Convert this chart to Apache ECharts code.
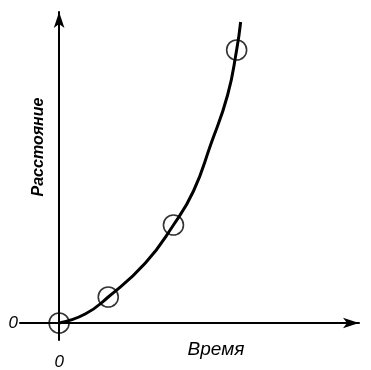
<!DOCTYPE html>
<html><head><meta charset="utf-8">
<script src="https://cdn.jsdelivr.net/npm/echarts@6/dist/echarts.min.js"></script>
<style>html,body{margin:0;padding:0;background:#fff}#c{width:371px;height:370px}</style>
</head><body><div id="c"></div>
<script>
// data (arbitrary units)
const timeVals = [0, 4.9, 11.4, 17.7];
const distVals = [0, 2.6, 9.8, 27.3];
const curveTime = [0, 2.6, 4.9, 8.6, 11.4, 13.4, 15.1, 16.8, 17.7, 18.1];
const curveDist = [0, 0.9, 2.6, 6.0, 9.8, 13.2, 17.8, 22.8, 27.3, 30.1];
const xTickLabels = ['0'];
const yTickLabels = ['0'];
const xTitle = 'Время';
const yTitle = 'Расстояние';

const chart = echarts.init(document.getElementById('c'));
const font = '"Liberation Sans", Arial, sans-serif';
chart.setOption({
  animation: false,
  grid: {left: 20, right: 12, top: 12, bottom: 30, containLabel: false, outerBoundsMode: 'none'},
  xAxis: {
    type: 'value', min: -3.9, max: 29.9,
    splitLine: {show: false},
    axisTick: {show: false},
    axisLine: {onZero: true, lineStyle: {color: '#000', width: 2}, symbol: ['none', 'arrow'], symbolSize: [8, 16]},
    axisLabel: {customValues: [0], formatter: (v) => xTickLabels[0], margin: 14,
      color: '#000', fontStyle: 'italic', fontSize: 17, fontFamily: font}
  },
  yAxis: {
    type: 'value', min: -1.7, max: 31.1,
    splitLine: {show: false},
    axisTick: {show: false},
    axisLine: {onZero: true, lineStyle: {color: '#000', width: 2}, symbol: ['none', 'arrow'], symbolSize: [8, 16]},
    axisLabel: {customValues: [0], formatter: (v) => yTickLabels[0], margin: 2,
      color: '#000', fontStyle: 'italic', fontSize: 17, fontFamily: font}
  },
  graphic: [
    {type: 'text', x: 39, y: 147, rotation: Math.PI / 2,
      style: {text: yTitle, fill: '#000', font: 'italic bold 16px ' + font, align: 'center', verticalAlign: 'middle'}},
    {type: 'text', x: 216, y: 350,
      style: {text: xTitle, fill: '#000', font: 'italic 19px ' + font, align: 'center', verticalAlign: 'middle'}}
  ],
  series: [
    {type: 'line', data: curveTime.map((t, i) => [t, curveDist[i]]), smooth: 0.5, showSymbol: false,
      lineStyle: {color: '#000', width: 3}},
    {type: 'scatter', data: timeVals.map((t, i) => [t, distVals[i]]), symbol: 'circle', symbolSize: 20,
      itemStyle: {color: 'transparent', borderColor: '#000', borderWidth: 1.6}}
  ]
});
</script></body></html>
